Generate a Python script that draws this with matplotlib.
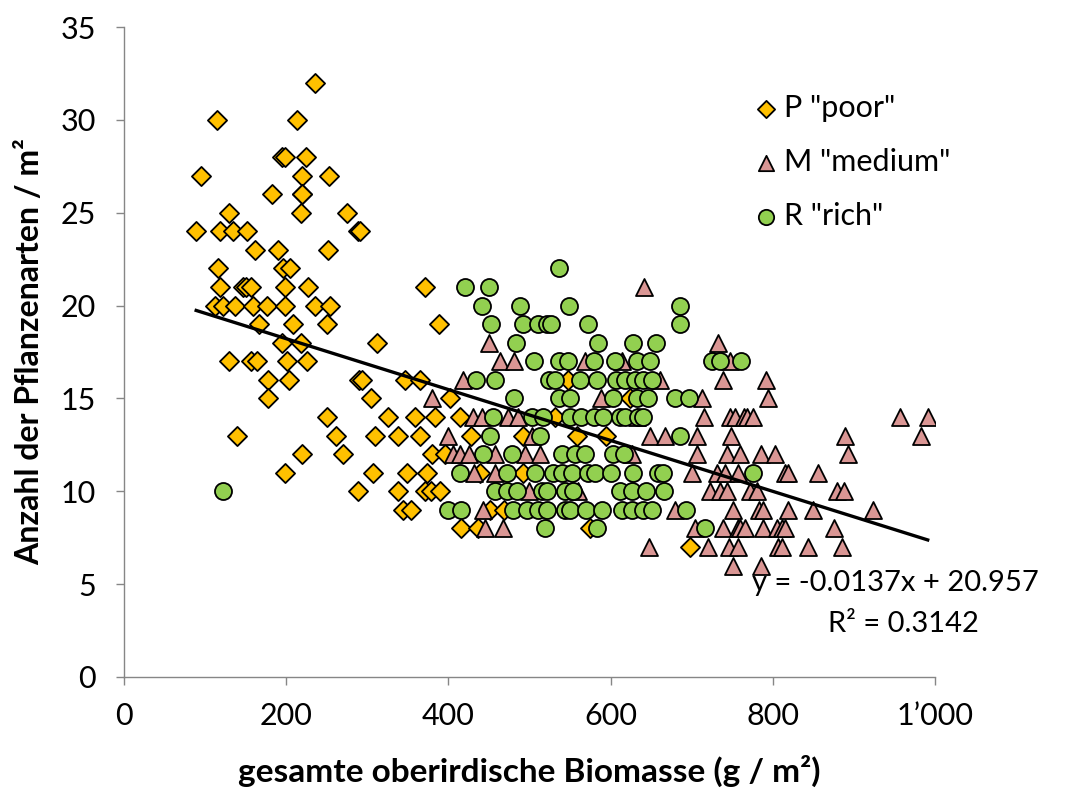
import matplotlib.pyplot as plt
import numpy as np

# data (biomass g/m², species count per m²)
poor_x = [235,
          115, 213,
          195, 198, 224,
          95, 220, 253,
          182, 219, 220,
          129, 218, 275,
          89, 118, 134, 152, 288, 291,
          162, 190, 252,
          116, 196, 205,
          118, 147, 151, 156, 198, 227, 371,
          112, 122, 137, 159, 176, 199, 235, 254,
          167, 209, 250, 389,
          195, 218, 312,
          130, 157, 164, 201, 226,
          177, 204, 290, 293, 346, 365, 548,
          177, 305, 402, 624,
          250, 325, 359, 383, 414, 531,
          139, 261, 310, 338, 365, 428, 492, 558, 594,
          220, 270, 380, 396,
          198, 307, 349, 374, 439, 492,
          289, 338, 371, 379, 390,
          344, 354, 451, 468,
          416, 437, 575,
          698]
poor_y = [32,
          30, 30,
          28, 28, 28,
          27, 27, 27,
          26, 26, 26,
          25, 25, 25,
          24, 24, 24, 24, 24, 24,
          23, 23, 23,
          22, 22, 22,
          21, 21, 21, 21, 21, 21, 21,
          20, 20, 20, 20, 20, 20, 20, 20,
          19, 19, 19, 19,
          18, 18, 18,
          17, 17, 17, 17, 17,
          16, 16, 16, 16, 16, 16, 16,
          15, 15, 15, 15,
          14, 14, 14, 14, 14, 14,
          13, 13, 13, 13, 13, 13, 13, 13, 13,
          12, 12, 12, 12,
          11, 11, 11, 11, 11, 11,
          10, 10, 10, 10, 10,
          9, 9, 9, 9,
          8, 8, 8,
          7]

medium_x = [641,
            450, 733,
            464, 481, 568, 614, 747,
            418, 661, 738, 792,
            380, 588, 713, 794,
            430, 442, 474, 486, 632, 715, 747, 753, 764, 768, 775, 957, 991,
            399, 503, 649, 667, 707, 749, 889, 983,
            406, 414, 425, 457, 494, 513, 626, 707, 743, 760, 786, 803, 893,
            431, 457, 700, 731, 741, 757, 815, 819, 856,
            499, 560, 723, 735, 743, 772, 780, 879, 888,
            443, 679, 751, 783, 788, 819, 850, 923,
            445, 467, 704, 739, 757, 760, 766, 788, 805, 811, 815, 875,
            647, 720, 746, 757, 807, 811, 844, 885,
            751, 786]
medium_y = [21,
            18, 18,
            17, 17, 17, 17, 17,
            16, 16, 16, 16,
            15, 15, 15, 15,
            14, 14, 14, 14, 14, 14, 14, 14, 14, 14, 14, 14, 14,
            13, 13, 13, 13, 13, 13, 13, 13,
            12, 12, 12, 12, 12, 12, 12, 12, 12, 12, 12, 12, 12,
            11, 11, 11, 11, 11, 11, 11, 11, 11,
            10, 10, 10, 10, 10, 10, 10, 10, 10,
            9, 9, 9, 9, 9, 9, 9, 9,
            8, 8, 8, 8, 8, 8, 8, 8, 8, 8, 8, 8,
            7, 7, 7, 7, 7, 7, 7, 7,
            6, 6]

rich_x = [536,
          421, 450,
          442, 488, 549, 685,
          452, 492, 510, 522, 527, 572, 686,
          483, 585, 628, 656,
          505, 536, 548, 579, 605, 633, 648, 725, 735, 761,
          434, 457, 524, 531, 562, 583, 607, 618, 630, 640, 651,
          481, 536, 550, 603, 632, 646, 679, 697,
          455, 503, 517, 550, 564, 579, 591, 612, 618, 634, 640,
          451, 513, 686,
          443, 478, 540, 556, 568, 603, 616,
          414, 472, 507, 529, 540, 552, 572, 581, 601, 628, 659, 664, 776,
          122, 457, 472, 484, 515, 521, 544, 554, 612, 626, 644, 666,
          399, 416, 480, 497, 511, 521, 544, 550, 570, 589, 614, 626, 640, 651, 693,
          519, 583, 716]
rich_y = [22,
          21, 21,
          20, 20, 20, 20,
          19, 19, 19, 19, 19, 19, 19,
          18, 18, 18, 18,
          17, 17, 17, 17, 17, 17, 17, 17, 17, 17,
          16, 16, 16, 16, 16, 16, 16, 16, 16, 16, 16,
          15, 15, 15, 15, 15, 15, 15, 15,
          14, 14, 14, 14, 14, 14, 14, 14, 14, 14, 14,
          13, 13, 13,
          12, 12, 12, 12, 12, 12, 12,
          11, 11, 11, 11, 11, 11, 11, 11, 11, 11, 11, 11, 11,
          10, 10, 10, 10, 10, 10, 10, 10, 10, 10, 10, 10,
          9, 9, 9, 9, 9, 9, 9, 9, 9, 9, 9, 9, 9, 9, 9,
          8, 8, 8]

# trendline as printed on the chart
slope = -0.0137
intercept = 20.957
r2 = 0.3142

x_ticks = [0, 200, 400, 600, 800, 1000]
x_tick_labels = ["0", "200", "400", "600", "800", "1\u2019000"]
y_ticks = [0, 5, 10, 15, 20, 25, 30, 35]

plt.rcParams['font.family'] = ['Lato', 'DejaVu Sans']

fig = plt.figure(figsize=(10.7, 7.92), dpi=100)
ax = fig.add_axes([124 / 1070, 1 - 677 / 792, (935 - 124) / 1070, (677 - 27) / 792])

edge = dict(edgecolor="black", linewidths=1.3)
ax.scatter(poor_x, poor_y, marker="D", s=95, color="#FFC000", label='P "poor"', zorder=3, **edge)
ax.scatter(medium_x, medium_y, marker="^", s=150, color="#DA9694", label='M "medium"', zorder=3, **edge)
ax.scatter(rich_x, rich_y, marker="o", s=150, color="#92D050", label='R "rich"', zorder=3, **edge)

# linear trendline over the data range
all_x = np.array(poor_x + medium_x + rich_x)
line_x = np.array([all_x.min(), all_x.max()])
ax.plot(line_x, slope * line_x + intercept, color="black", linewidth=2.4, zorder=4)

ax.text(895 / 1070, 1 - 583 / 792, f"y = {slope}x + {intercept}", transform=fig.transFigure,
        ha="center", va="center", fontsize=21)
ax.text(903 / 1070, 1 - 624 / 792, f"R\u00b2 = {r2}", transform=fig.transFigure,
        ha="center", va="center", fontsize=21)

ax.set_xlim(0, 1000)
ax.set_ylim(0, 35)
ax.set_xticks(x_ticks)
ax.set_xticklabels(x_tick_labels)
ax.set_yticks(y_ticks)

for side in ["top", "right"]:
    ax.spines[side].set_visible(False)
for side in ["left", "bottom"]:
    ax.spines[side].set_color("#868686")
    ax.spines[side].set_linewidth(1.0)
ax.tick_params(axis="both", direction="out", length=6, width=1.0, color="#868686",
               labelsize=22)
ax.tick_params(axis="y", pad=14)
ax.tick_params(axis="x", pad=12)

ax.set_xlabel("gesamte oberirdische Biomasse (g / m\u00b2)", fontsize=24, fontweight="bold", labelpad=18)
ax.set_ylabel("Anzahl der Pflanzenarten / m\u00b2", fontsize=23, fontweight="bold", labelpad=12)

ax.legend(loc="upper left", bbox_to_anchor=(738 / 1070, 1 - 82 / 792), bbox_transform=fig.transFigure,
          frameon=False, fontsize=22, handletextpad=0.1, handlelength=1.0, labelspacing=0.85,
          markerscale=0.9, borderaxespad=0)

fig.savefig("out.png", dpi=100)
